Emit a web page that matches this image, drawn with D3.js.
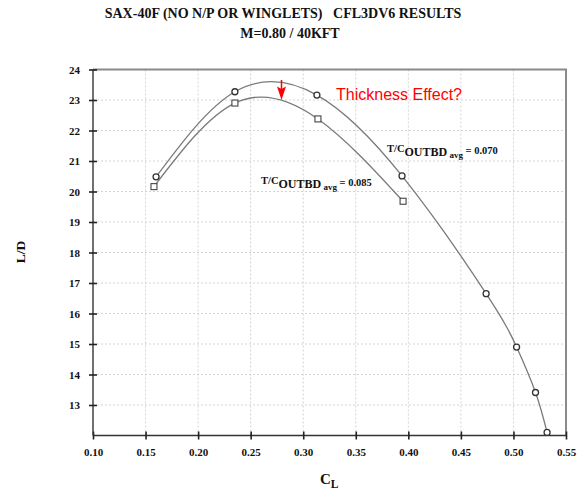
<!DOCTYPE html>
<html>
<head>
<meta charset="utf-8">
<script src="https://cdn.jsdelivr.net/npm/d3@7"></script>
<style>
  html, body { margin: 0; padding: 0; background: #fff; }
  svg { display: block; }
  .serif { font-family: "Liberation Serif", "Times New Roman", serif; font-weight: bold; fill: #111; }
</style>
</head>
<body>
<svg id="chart" width="585" height="497"></svg>
<script>
// Lift coefficient and lift-to-drag ratio, CFL3D v6 runs
const clThin  = [0.160, 0.235, 0.313, 0.394, 0.474, 0.503, 0.521, 0.532];
const ldThin  = [20.48, 23.27, 23.16, 20.51, 16.65, 14.90, 13.41, 12.10];
const clThick = [0.158, 0.235, 0.314, 0.395];
const ldThick = [20.16, 22.90, 22.38, 19.68];

const xTicks = [0.10, 0.15, 0.20, 0.25, 0.30, 0.35, 0.40, 0.45, 0.50, 0.55];
const yTicks = [13, 14, 15, 16, 17, 18, 19, 20, 21, 22, 23, 24];

const svg = d3.select("#chart");
const x = d3.scaleLinear().domain([0.10, 0.55]).range([93, 566]);
const y = d3.scaleLinear().domain([12, 24]).range([435.5, 69.5]);

// dotted grid
const grid = svg.append("g");
grid.selectAll("line.v").data(xTicks.slice(1, -1)).join("line")
  .attr("x1", d => x(d)).attr("x2", d => x(d))
  .attr("y1", y(12)).attr("y2", y(24))
  .attr("stroke", "#d4d4d4").attr("stroke-width", 1).attr("stroke-dasharray", "2,2");
grid.selectAll("line.h").data(yTicks.slice(0, -1)).join("line")
  .attr("x1", x(0.10)).attr("x2", x(0.55))
  .attr("y1", d => y(d)).attr("y2", d => y(d))
  .attr("stroke", "#d4d4d4").attr("stroke-width", 1).attr("stroke-dasharray", "2,2");

// top and right frame
svg.append("path")
  .attr("d", `M${x(0.10)},${y(24)}H${x(0.55)}V${y(12)}`)
  .attr("fill", "none").attr("stroke", "#8a8a8a").attr("stroke-width", 2);

// axes
const xAxis = svg.append("g").attr("transform", `translate(0,${y(12)})`)
  .call(d3.axisBottom(x).tickValues(xTicks).tickFormat(d3.format(".2f")).tickSize(4).tickPadding(9));
xAxis.selectAll(".tick line").attr("y1", -4).attr("y2", 4);
const yAxis = svg.append("g").attr("transform", `translate(${x(0.10)},0)`)
  .call(d3.axisLeft(y).tickValues(yTicks).tickFormat(d3.format("d")).tickSize(4).tickPadding(9));
yAxis.selectAll(".tick line").attr("x1", -4).attr("x2", 4);
[xAxis, yAxis].forEach(a => {
  a.select(".domain").attr("stroke", "#333").attr("stroke-width", 1.4);
  a.selectAll(".tick line").attr("stroke", "#222").attr("stroke-width", 1.6);
  a.selectAll(".tick text").attr("class", "serif").attr("font-size", 11).attr("fill", "#111");
});
xAxis.select(".domain").attr("d", `M${x(0.10)},0H${x(0.55)}`);
yAxis.select(".domain").attr("d", `M0,${y(24)}V${y(12)}`);

// smooth curves through each data set
const line = d3.line().x(d => x(d[0])).y(d => y(d[1])).curve(d3.curveNatural);
const thin = clThin.map((c, i) => [c, ldThin[i]]);
const thick = clThick.map((c, i) => [c, ldThick[i]]);
[thin, thick].forEach(pts => {
  svg.append("path").attr("d", line(pts))
    .attr("fill", "none").attr("stroke", "#7a7a7a").attr("stroke-width", 1.3);
});

// markers
svg.selectAll("circle.thin").data(thin).join("circle")
  .attr("cx", d => x(d[0])).attr("cy", d => y(d[1])).attr("r", 3)
  .attr("fill", "#fff").attr("stroke", "#333").attr("stroke-width", 1.3);
svg.selectAll("rect.thick").data(thick).join("rect")
  .attr("x", d => x(d[0]) - 3).attr("y", d => y(d[1]) - 3)
  .attr("width", 6).attr("height", 6)
  .attr("fill", "#fff").attr("stroke", "#444").attr("stroke-width", 1.1);

// titles
svg.append("text").attr("class", "serif").attr("x", 283).attr("y", 18)
  .attr("text-anchor", "middle").attr("font-size", 14).style("white-space", "pre")
  .text("SAX-40F (NO N/P OR WINGLETS)   CFL3DV6 RESULTS");
svg.append("text").attr("class", "serif").attr("x", 290).attr("y", 38)
  .attr("text-anchor", "middle").attr("font-size", 14)
  .text("M=0.80 / 40KFT");

// axis titles
svg.append("text").attr("class", "serif").attr("transform", "translate(25,252) rotate(-90)")
  .attr("text-anchor", "middle").attr("font-size", 13.5).text("L/D");
const xt = svg.append("text").attr("class", "serif").attr("x", 320).attr("y", 484).attr("font-size", 15);
xt.append("tspan").text("C");
xt.append("tspan").attr("font-size", 11.5).attr("dy", 4).text("L");

// series annotations
function tcLabel(px, py, value) {
  const t = svg.append("text").attr("class", "serif").attr("x", px).attr("y", py)
    .attr("font-size", 10.5).style("white-space", "pre");
  t.append("tspan").text("T/C");
  t.append("tspan").attr("font-size", 12).attr("dy", 4).text("OUTBD");
  t.append("tspan").attr("font-size", 9).attr("dy", 1.5).text(" avg");
  t.append("tspan").attr("font-size", 10.5).attr("dy", -3.5).text(" = " + value);
}
tcLabel(387, 152, "0.070");
tcLabel(261, 184, "0.085");

// thickness effect note
const ax = 281.5;
svg.append("line").attr("x1", ax).attr("x2", ax).attr("y1", 80).attr("y2", 90)
  .attr("stroke", "#f00").attr("stroke-width", 1.5);
svg.append("path").attr("d", `M${ax - 4.5},86.5L${ax},100L${ax + 4.5},86.5L${ax},89Z`)
  .attr("fill", "#f00");
svg.append("text").attr("x", 336).attr("y", 100)
  .attr("font-family", "'Liberation Sans', Arial, sans-serif").attr("font-size", 16)
  .attr("fill", "#f00").text("Thickness Effect?");
</script>
</body>
</html>
